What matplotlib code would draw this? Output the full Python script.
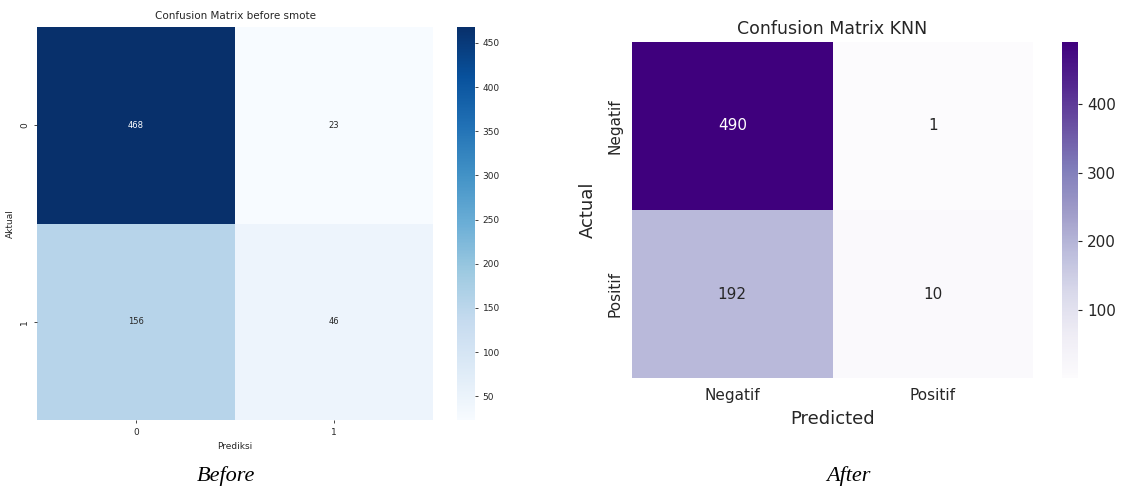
import numpy as np
import matplotlib
matplotlib.use("Agg")
import matplotlib.pyplot as plt
import seaborn as sns

# confusion matrices
cm_before = np.array([[468, 23],
                      [156, 46]])
cm_knn = np.array([[490, 1],
                   [192, 10]])
labels_before = ["0", "1"]
labels_knn = ["Negatif", "Positif"]

plt.rcParams['font.family'] = ['DejaVu Sans']
plt.rcParams['text.color'] = '#262626'
plt.rcParams['axes.labelcolor'] = '#262626'
plt.rcParams['xtick.color'] = '#262626'
plt.rcParams['ytick.color'] = '#262626'

fig = plt.figure(figsize=(11.28, 4.86), dpi=100)

# left: before smote
ax1 = fig.add_axes([0.0328, 0.1358, 0.3511, 0.8086])
cax1 = fig.add_axes([0.4051, 0.1358, 0.0160, 0.8086])
sns.heatmap(cm_before, annot=True, fmt="d", cmap="Blues", ax=ax1, cbar_ax=cax1,
            xticklabels=labels_before, yticklabels=labels_before,
            annot_kws={"size": 6})
ax1.set_title("Confusion Matrix before smote", fontsize=7.5)
ax1.set_xlabel("Prediksi", fontsize=6.5)
ax1.set_ylabel("Aktual", fontsize=6.5)
ax1.tick_params(labelsize=6.5, length=2, width=0.6)
for t in ax1.get_yticklabels():
    t.set_rotation(90)
    t.set_va("center")
cax1.tick_params(labelsize=6.5, length=2, width=0.6)
for s in cax1.spines.values():
    s.set_visible(False)

# right: KNN
ax2 = fig.add_axes([0.5603, 0.2222, 0.3555, 0.6914])
cax2 = fig.add_axes([0.9415, 0.2222, 0.0142, 0.6914])
sns.heatmap(cm_knn, annot=True, fmt="d", cmap="Purples", ax=ax2, cbar_ax=cax2,
            xticklabels=labels_knn, yticklabels=labels_knn,
            annot_kws={"size": 11})
ax2.set_title("Confusion Matrix KNN", fontsize=12.5)
ax2.set_xlabel("Predicted", fontsize=13, labelpad=5)
ax2.set_ylabel("Actual", fontsize=13, labelpad=7.5)
ax2.tick_params(labelsize=11, length=0, pad=7)
for t in ax2.get_yticklabels():
    t.set_rotation(90)
    t.set_va("center")
cax2.tick_params(labelsize=11, length=3)
for s in cax2.spines.values():
    s.set_visible(False)

# captions
fig.text(0.2, 0.01, "Before", fontsize=16, style="italic",
         family="Liberation Serif", color="black", ha="center")
fig.text(0.752, 0.01, "After", fontsize=16, style="italic",
         family="Liberation Serif", color="black", ha="center")

fig.savefig("out.png", dpi=100)
